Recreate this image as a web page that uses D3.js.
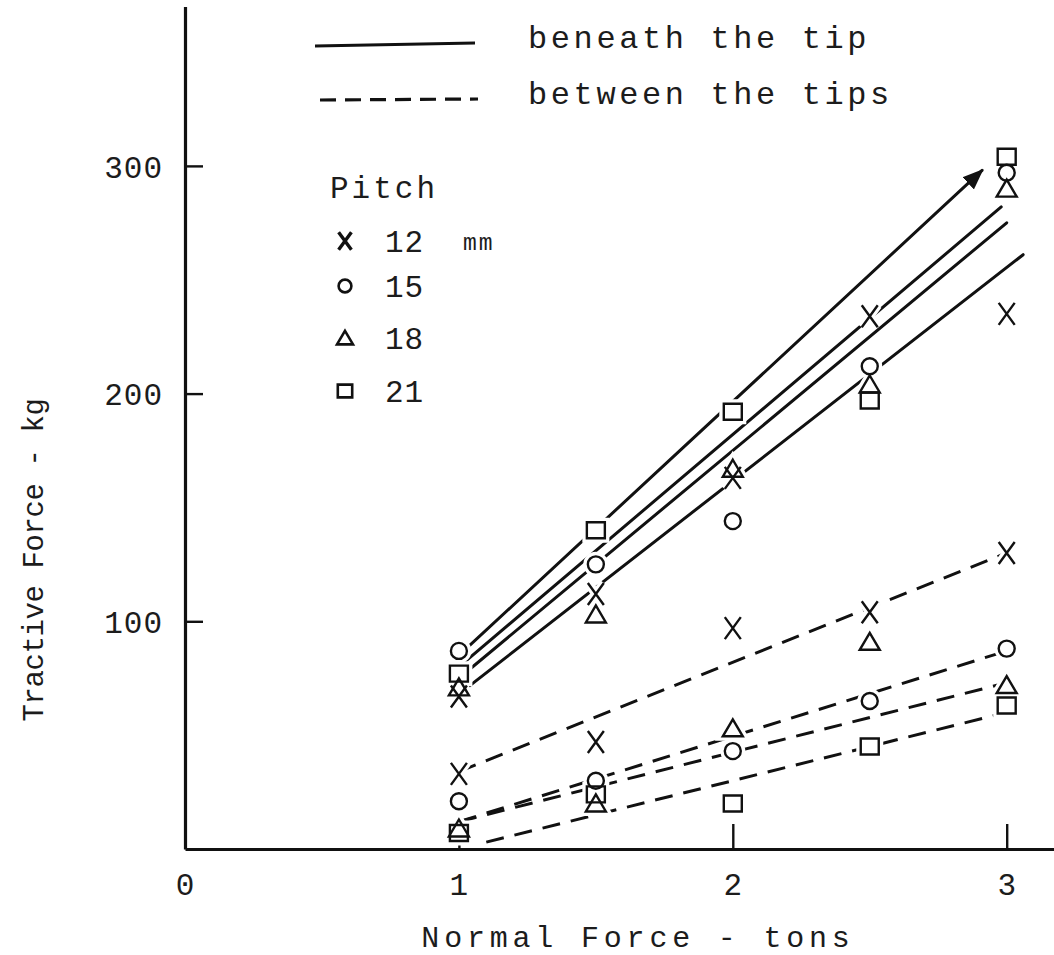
<!DOCTYPE html>
<html>
<head>
<script src="https://d3js.org/d3.v7.min.js"></script>
<style>
  body { margin: 0; background: #fff; }
  svg text { font-family: "Liberation Mono", "DejaVu Sans Mono", monospace; fill: #1c1c1c; }
</style>
</head>
<body>
<div id="chart"></div>
<script>
// pitch of the tips (mm) and the symbol used for each
var pitches = ["12", "15", "18", "21"];
var shapes = ["cross", "circle", "triangle", "square"];

// normal force, tons
var normalForce = [1, 1.5, 2, 2.5, 3];

// tractive force (kg), measured beneath the tip
var beneath12 = [67, 112, 163, 234, 235];
var beneath15 = [87, 125, 144, 212, 297];
var beneath18 = [71, 103, 167, 204, 290];
var beneath21 = [77, 140, 192, 197, 304];

// tractive force (kg), measured between the tips
var between12 = [33, 47, 97, 104, 130];
var between15 = [21, 30, 43, 65, 88];
var between18 = [9, 20, 53, 91, 72];
var between21 = [7, 24, 20, 45, 63];

// hand drawn trend lines: [force from, kg, force to, kg]
var beneathFit = [[1, 68, 3.06, 261], [1, 80, 2.98, 282], [1, 75, 3.0, 275], [1, 85, 2.91, 298]];
var betweenFit = [[1, 34, 3, 130], [1, 12, 3, 87], [1, 12, 3, 73], [1.1, 3, 3, 60]];

var xTicks = [0, 1, 2, 3];
var yTicks = [100, 200, 300];

var width = 1054, height = 955;

var svg = d3.select("#chart").append("svg")
    .attr("width", width)
    .attr("height", height);

svg.append("defs").append("marker")
    .attr("id", "arrow")
    .attr("viewBox", "0 0 10 10")
    .attr("refX", 9).attr("refY", 5)
    .attr("markerWidth", 7).attr("markerHeight", 7)
    .attr("markerUnits", "strokeWidth")
    .attr("orient", "auto")
    .append("path")
    .attr("d", "M0,1L10,5L0,9Z")
    .attr("fill", "#111");

var x = d3.scaleLinear().domain([0, 3.18]).range([185, 1056]);
var y = d3.scaleLinear().domain([0, 370]).range([849, 6.5]);

// axes
var yAxis = svg.append("g")
    .attr("transform", "translate(" + x(0) + ",0)")
    .call(d3.axisLeft(y).tickValues(yTicks).tickSizeInner(-18).tickSizeOuter(0).tickPadding(22));
var xAxis = svg.append("g")
    .attr("transform", "translate(0," + y(0) + ")")
    .call(d3.axisBottom(x).tickValues(xTicks).tickFormat(d3.format("d"))
        .tickSizeInner(-25).tickSizeOuter(0).tickPadding(24));

[yAxis, xAxis].forEach(function (g) {
    g.select(".domain").attr("stroke", "#111").attr("stroke-width", 3.2);
    g.selectAll(".tick line").attr("stroke", "#111").attr("stroke-width", 2.4);
    g.selectAll(".tick text")
        .style("font-family", "'Liberation Mono', monospace")
        .style("font-size", "31px")
        .style("letter-spacing", "1px")
        .attr("fill", "#3c3c3c");
});
xAxis.selectAll(".tick").filter(function (d) { return d === 0; }).select("line").remove();
yAxis.selectAll(".tick text").attr("dy", "0.36em");

// axis titles
svg.append("text")
    .attr("transform", "translate(43," + 560 + ") rotate(-90)")
    .attr("text-anchor", "middle")
    .style("font-size", "29px")
    .style("letter-spacing", "-0.4px")
    .text("Tractive Force - kg");

svg.append("text")
    .attr("x", 638).attr("y", 947)
    .attr("text-anchor", "middle")
    .style("font-size", "30px")
    .style("letter-spacing", "4.8px")
    .text("Normal Force - tons");

// symbols
function symbolPath(shape, s) {
    if (shape === "cross") return "M" + (-8 * s) + "," + (-11 * s) + "L" + (8 * s) + "," + (11 * s) +
        "M" + (8 * s) + "," + (-11 * s) + "L" + (-8 * s) + "," + (11 * s);
    if (shape === "circle") return d3.arc()({ innerRadius: 0, outerRadius: 8 * s, startAngle: 0, endAngle: 2 * Math.PI });
    if (shape === "triangle") return "M0," + (-9 * s) + "L" + (10 * s) + "," + (8 * s) + "L" + (-10 * s) + "," + (8 * s) + "Z";
    return "M" + (-9 * s) + "," + (-8 * s) + "H" + (9 * s) + "V" + (8 * s) + "H" + (-9 * s) + "Z";
}

var beneath = [beneath12, beneath15, beneath18, beneath21];
var between = [between12, between15, between18, between21];

var points = [];
[beneath, between].forEach(function (set) {
    set.forEach(function (vals, i) {
        vals.forEach(function (v, j) {
            points.push({ shape: shapes[i], f: normalForce[j], kg: v });
        });
    });
});

// trend lines
var lineG = svg.append("g");
beneathFit.forEach(function (d, i) {
    lineG.append("line")
        .attr("x1", x(d[0])).attr("y1", y(d[1]))
        .attr("x2", x(d[2])).attr("y2", y(d[3]))
        .attr("stroke", "#111").attr("stroke-width", 3)
        .attr("stroke-linecap", "round")
        .attr("marker-end", i === 3 ? "url(#arrow)" : null);
});
betweenFit.forEach(function (d) {
    lineG.append("line")
        .attr("x1", x(d[0])).attr("y1", y(d[1]))
        .attr("x2", x(d[2])).attr("y2", y(d[3]))
        .attr("stroke", "#111").attr("stroke-width", 3)
        .attr("stroke-dasharray", "18,11");
});

// white halo so lines break around the symbols, as in the drawing
svg.append("g").selectAll("path").data(points).enter().append("path")
    .attr("transform", function (d) { return "translate(" + x(d.f) + "," + y(d.kg) + ")"; })
    .attr("d", function (d) { return symbolPath(d.shape, 1); })
    .attr("fill", "#fff").attr("stroke", "#fff").attr("stroke-width", 9);

svg.append("g").selectAll("path").data(points).enter().append("path")
    .attr("transform", function (d) { return "translate(" + x(d.f) + "," + y(d.kg) + ")"; })
    .attr("d", function (d) { return symbolPath(d.shape, 1); })
    .attr("fill", "none").attr("stroke", "#111").attr("stroke-width", 2.4);

// legend: line styles
svg.append("line").attr("x1", 315).attr("y1", 46).attr("x2", 475).attr("y2", 43)
    .attr("stroke", "#111").attr("stroke-width", 3.2);
svg.append("line").attr("x1", 320).attr("y1", 100).attr("x2", 478).attr("y2", 99)
    .attr("stroke", "#111").attr("stroke-width", 3.2).attr("stroke-dasharray", "16,9");
svg.append("text").attr("x", 528).attr("y", 48)
    .style("font-size", "32px").style("letter-spacing", "3.6px").text("beneath the tip");
svg.append("text").attr("x", 528).attr("y", 104)
    .style("font-size", "32px").style("letter-spacing", "3.6px").text("between the tips");

// legend: pitch symbols
svg.append("text").attr("x", 330).attr("y", 198)
    .style("font-size", "31px").style("letter-spacing", "3px").text("Pitch");
var rowY = [241, 286, 338, 391];
pitches.forEach(function (p, i) {
    svg.append("path")
        .attr("transform", "translate(345," + rowY[i] + ")")
        .attr("d", symbolPath(shapes[i], 0.8))
        .attr("fill", "none").attr("stroke", "#111").attr("stroke-width", i === 0 ? 3.4 : 2.6);
    svg.append("text").attr("x", 385).attr("y", rowY[i] + 11)
        .style("font-size", "31px").style("letter-spacing", "1px")
        .attr("fill", "#333").text(p);
});
svg.append("text").attr("x", 463).attr("y", rowY[0] + 9)
    .style("font-size", "23px").style("letter-spacing", "2px").attr("fill", "#444").text("mm");
</script>
</body>
</html>
